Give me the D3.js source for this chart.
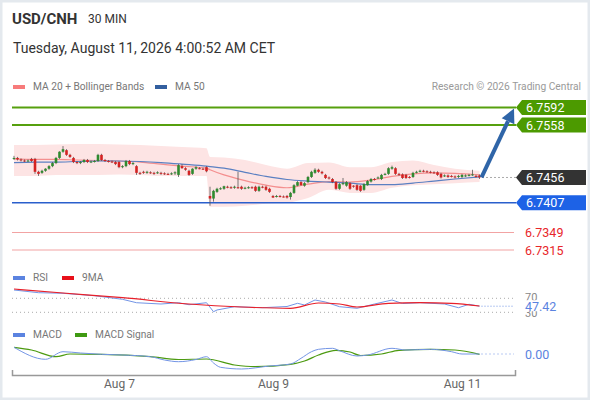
<!DOCTYPE html>
<html>
<head>
<meta charset="utf-8">
<script src="https://cdn.jsdelivr.net/npm/d3@7"></script>
<style>
  body { margin: 0; background: #fff; }
  svg { font-family: Roboto, "Liberation Sans", Arial, sans-serif; display: block; }
</style>
</head>
<body>
<svg id="chart" width="590" height="400"></svg>
<script>
// ---- data (USD/CNH, 30 min candles) ----
const opens = [
  6.7492, 6.7494, 6.7491, 6.7489, 6.7488, 6.7492, 6.7492, 6.7467, 6.7465, 6.7469,
  6.7473, 6.7478, 6.7484, 6.7494, 6.7506, 6.7509, 6.7500, 6.7494, 6.7486, 6.7484,
  6.7486, 6.7490, 6.7486, 6.7487, 6.7488, 6.7500, 6.7490, 6.7488, 6.7487, 6.7486,
  6.7486, 6.7476, 6.7478, 6.7488, 6.7482, 6.7478, 6.7465, 6.7467, 6.7466, 6.7466,
  6.7465, 6.7465, 6.7465, 6.7464, 6.7463, 6.7463, 6.7464, 6.7461, 6.7478, 6.7474,
  6.7469, 6.7463, 6.7473, 6.7474, 6.7473, 6.7476, 6.7420, 6.7415, 6.7428, 6.7434,
  6.7434, 6.7438, 6.7437, 6.7436, 6.7437, 6.7438, 6.7435, 6.7436, 6.7437, 6.7438,
  6.7430, 6.7438, 6.7438, 6.7434, 6.7420, 6.7419, 6.7420, 6.7419, 6.7420, 6.7418,
  6.7426, 6.7440, 6.7447, 6.7440, 6.7447, 6.7457, 6.7465, 6.7471, 6.7467, 6.7461,
  6.7456, 6.7453, 6.7447, 6.7434, 6.7443, 6.7440, 6.7445, 6.7440, 6.7441, 6.7440,
  6.7432, 6.7441, 6.7448, 6.7453, 6.7455, 6.7453, 6.7462, 6.7463, 6.7473, 6.7474,
  6.7463, 6.7462, 6.7461, 6.7457, 6.7457, 6.7466, 6.7468, 6.7469, 6.7468, 6.7467,
  6.7466, 6.7466, 6.7463, 6.7459, 6.7460, 6.7459, 6.7458, 6.7457, 6.7457, 6.7459,
  6.7460, 6.7461, 6.7459, 6.7460
];
const highs = [
  6.7498, 6.7496, 6.7493, 6.7491, 6.7491, 6.7494, 6.7494, 6.7469, 6.7471, 6.7474,
  6.7480, 6.7486, 6.7496, 6.7507, 6.7517, 6.7511, 6.7502, 6.7496, 6.7488, 6.7488,
  6.7492, 6.7492, 6.7489, 6.7490, 6.7502, 6.7502, 6.7492, 6.7490, 6.7489, 6.7488,
  6.7488, 6.7480, 6.7490, 6.7490, 6.7486, 6.7480, 6.7467, 6.7469, 6.7469, 6.7468,
  6.7467, 6.7468, 6.7467, 6.7466, 6.7465, 6.7466, 6.7468, 6.7482, 6.7482, 6.7476,
  6.7471, 6.7474, 6.7478, 6.7476, 6.7475, 6.7478, 6.7438, 6.7432, 6.7436, 6.7437,
  6.7440, 6.7440, 6.7439, 6.7440, 6.7467, 6.7440, 6.7438, 6.7439, 6.7439, 6.7440,
  6.7440, 6.7440, 6.7440, 6.7436, 6.7422, 6.7422, 6.7422, 6.7421, 6.7422, 6.7428,
  6.7443, 6.7449, 6.7449, 6.7447, 6.7459, 6.7469, 6.7474, 6.7473, 6.7469, 6.7463,
  6.7458, 6.7455, 6.7449, 6.7445, 6.7455, 6.7449, 6.7447, 6.7441, 6.7443, 6.7441,
  6.7445, 6.7451, 6.7455, 6.7455, 6.7458, 6.7463, 6.7465, 6.7476, 6.7479, 6.7476,
  6.7465, 6.7464, 6.7463, 6.7459, 6.7467, 6.7469, 6.7471, 6.7471, 6.7470, 6.7469,
  6.7468, 6.7468, 6.7465, 6.7462, 6.7462, 6.7461, 6.7460, 6.7461, 6.7463, 6.7462,
  6.7463, 6.7471, 6.7461, 6.7462
];
const lows = [
  6.7490, 6.7489, 6.7487, 6.7486, 6.7486, 6.7486, 6.7463, 6.7459, 6.7463, 6.7467,
  6.7471, 6.7476, 6.7482, 6.7492, 6.7504, 6.7498, 6.7494, 6.7484, 6.7482, 6.7482,
  6.7484, 6.7484, 6.7484, 6.7485, 6.7486, 6.7488, 6.7486, 6.7485, 6.7484, 6.7480,
  6.7474, 6.7474, 6.7476, 6.7480, 6.7480, 6.7461, 6.7461, 6.7463, 6.7463, 6.7463,
  6.7461, 6.7463, 6.7461, 6.7461, 6.7461, 6.7461, 6.7461, 6.7457, 6.7473, 6.7469,
  6.7459, 6.7461, 6.7471, 6.7472, 6.7471, 6.7466, 6.7401, 6.7409, 6.7426, 6.7432,
  6.7432, 6.7435, 6.7434, 6.7434, 6.7434, 6.7432, 6.7433, 6.7434, 6.7434, 6.7428,
  6.7428, 6.7435, 6.7430, 6.7426, 6.7416, 6.7417, 6.7417, 6.7417, 6.7415, 6.7413,
  6.7424, 6.7439, 6.7440, 6.7438, 6.7445, 6.7455, 6.7463, 6.7465, 6.7462, 6.7453,
  6.7452, 6.7445, 6.7432, 6.7432, 6.7441, 6.7438, 6.7432, 6.7436, 6.7430, 6.7428,
  6.7430, 6.7440, 6.7446, 6.7450, 6.7453, 6.7451, 6.7460, 6.7461, 6.7471, 6.7461,
  6.7459, 6.7453, 6.7453, 6.7454, 6.7455, 6.7464, 6.7466, 6.7466, 6.7465, 6.7464,
  6.7463, 6.7459, 6.7454, 6.7457, 6.7455, 6.7456, 6.7454, 6.7455, 6.7455, 6.7457,
  6.7458, 6.7459, 6.7456, 6.7453
];
const closes = [
  6.7494, 6.7491, 6.7489, 6.7488, 6.7489, 6.7488, 6.7467, 6.7463, 6.7469, 6.7473,
  6.7478, 6.7484, 6.7494, 6.7506, 6.7511, 6.7500, 6.7496, 6.7486, 6.7484, 6.7486,
  6.7490, 6.7486, 6.7487, 6.7488, 6.7500, 6.7490, 6.7488, 6.7487, 6.7486, 6.7482,
  6.7476, 6.7478, 6.7488, 6.7482, 6.7484, 6.7465, 6.7464, 6.7466, 6.7467, 6.7465,
  6.7464, 6.7466, 6.7464, 6.7463, 6.7462, 6.7464, 6.7466, 6.7480, 6.7474, 6.7471,
  6.7461, 6.7473, 6.7476, 6.7473, 6.7472, 6.7468, 6.7415, 6.7430, 6.7434, 6.7435,
  6.7439, 6.7437, 6.7436, 6.7438, 6.7436, 6.7434, 6.7436, 6.7437, 6.7436, 6.7430,
  6.7438, 6.7437, 6.7432, 6.7428, 6.7417, 6.7420, 6.7419, 6.7418, 6.7417, 6.7426,
  6.7441, 6.7447, 6.7441, 6.7445, 6.7457, 6.7467, 6.7471, 6.7467, 6.7464, 6.7455,
  6.7454, 6.7447, 6.7434, 6.7443, 6.7445, 6.7447, 6.7434, 6.7438, 6.7432, 6.7430,
  6.7443, 6.7449, 6.7453, 6.7452, 6.7456, 6.7461, 6.7463, 6.7474, 6.7476, 6.7463,
  6.7461, 6.7455, 6.7455, 6.7456, 6.7465, 6.7467, 6.7469, 6.7468, 6.7467, 6.7466,
  6.7465, 6.7461, 6.7456, 6.7460, 6.7457, 6.7458, 6.7456, 6.7459, 6.7461, 6.7460,
  6.7461, 6.7462, 6.7458, 6.7456
];

// moving averages and bands, sampled at these candle indices
const lineIdx = [0, 6, 12, 18, 24, 30, 36, 42, 48, 55, 56, 60, 66, 72, 78, 84, 90, 96, 102, 108, 114, 120, 126, 133];
const bbUpper = [6.7519, 6.7519, 6.7520, 6.7521, 6.7521, 6.7520, 6.7519, 6.7517, 6.7515, 6.7513, 6.7496, 6.7495,
                 6.7490, 6.7480, 6.7473, 6.7484, 6.7485, 6.7476, 6.7476, 6.7486, 6.7489, 6.7480, 6.7473, 6.7469];
const bbLower = [6.7459, 6.7459, 6.7461, 6.7461, 6.7461, 6.7462, 6.7461, 6.7459, 6.7459, 6.7459, 6.7399, 6.7399,
                 6.7401, 6.7405, 6.7407, 6.7416, 6.7432, 6.7426, 6.7426, 6.7436, 6.7441, 6.7443, 6.7445, 6.7447];
const ma20 = [6.7492, 6.7491, 6.7491, 6.7490, 6.7489, 6.7488, 6.7486, 6.7482, 6.7478, 6.7474, 6.7471, 6.7461,
              6.7450, 6.7441, 6.7436, 6.7443, 6.7448, 6.7447, 6.7451, 6.7458, 6.7463, 6.7465, 6.7464, 6.7461];
const ma50 = [6.7485, 6.7486, 6.7486, 6.7487, 6.7488, 6.7488, 6.7487, 6.7485, 6.7482, 6.7478, 6.7477, 6.7474,
              6.7466, 6.7458, 6.7452, 6.7449, 6.7447, 6.7445, 6.7442, 6.7442, 6.7445, 6.7449, 6.7453, 6.7457];

// RSI panel
const rsiIdx = [0, 7, 14, 23, 31, 35, 42, 47, 50, 55, 57, 58, 63, 71, 78, 81, 83, 86, 89, 93, 98, 103, 108, 111, 116, 123, 127, 130, 133];
const rsiVals = [93.7, 86, 84.3, 77.4, 67.1, 57.4, 53.7, 57.4, 51.7, 57.4, 31.7, 36.6, 46, 43.1, 46.6, 55.7, 50.9,
                 65.1, 59.4, 46, 41.4, 53.7, 65.1, 55.1, 57.4, 53.7, 43.1, 52.9, 47.42];
const rsiMaIdx = [0, 14, 31, 50, 65, 79, 87, 93, 98, 107, 116, 125, 133];
const rsiMaVals = [96.6, 85.1, 71.7, 53.7, 45.1, 41.4, 56.6, 53.7, 45.1, 55.7, 57.4, 55.7, 48];
const rsiLevels = [70, 30];

// MACD panel
const macdIdx = [0, 9, 14, 19, 25, 31, 39, 43, 47, 52, 55, 57, 59, 65, 73, 79, 82, 85, 87, 91, 93, 98, 101, 108, 112, 119, 125, 128, 133];
const macdVals = [0.00067, -0.00053, 0.00023, 0.0001, -0.00003, -0.0001, -0.00027, -0.0006, -0.00077, -0.00055,
                  -0.00027, -0.0009, -0.00133, -0.0015, -0.0012, -0.001, -0.00043, 0.00023, 0.00047, 0.00057,
                  0.00033, -0.0002, -0.0001, 0.00057, 0.0004, 0.00047, 0.00023, 0, 0];
const signalIdx = [0, 5, 12, 16, 25, 39, 47, 55, 63, 69, 79, 83, 87, 92, 96, 99, 105, 110, 119, 126, 133];
const signalVals = [0.00067, 0.0004, -0.00027, 0, -0.00003, -0.00027, -0.00055, -0.0005, -0.0011, -0.00127,
                    -0.00103, -0.0007, -0.0001, 0.00037, 0.0002, -0.00015, 0, 0.00037, 0.00047, 0.0004, -0.00003];

// key levels
const resistances = [6.7592, 6.7558];
const supports = [6.7407];
const minorLevels = [6.7349, 6.7315];
const lastPrice = 6.7456;

// x axis
const tickIdx = [30, 74, 128];
const tickLabels = ['Aug 7', 'Aug 9', 'Aug 11'];

// ---- drawing ----
const svg = d3.select('#chart');
const W = 590, H = 400;

svg.append('rect').attr('x', 1).attr('y', 1).attr('width', W - 2).attr('height', H - 2)
  .attr('fill', '#fff').attr('stroke', '#e4e9ee').attr('stroke-width', 3);

const x = d3.scaleLinear().domain([0, closes.length - 1]).range([14, 479.5]);
const y = d3.scaleLinear().domain([6.7315, 6.7558]).range([250, 125]);
const yRsi = d3.scaleLinear().domain([0, 100]).range([322.8, 287.8]);
const yMacd = d3.scaleLinear().domain([-0.0015, 0.0007]).range([369, 347]);

const lineRight = 516;
const labelX = 525;

// header
svg.append('text').attr('x', 12).attr('y', 24).text('USD/CNH')
  .style('font-size', '15px').style('font-weight', 'bold').attr('fill', '#333');
svg.append('text').attr('x', 88).attr('y', 23).text('30 MIN')
  .style('font-size', '12px').attr('fill', '#333');
svg.append('text').attr('x', 13).attr('y', 53).text('Tuesday, August 11, 2026 4:00:52 AM CET')
  .style('font-size', '14px').attr('fill', '#333');

// legend helper
function legend(items, yy) {
  items.forEach(it => {
    svg.append('rect').attr('x', it.x).attr('y', yy - 5).attr('width', 12).attr('height', 4).attr('fill', it.color);
    svg.append('text').attr('x', it.x + 20).attr('y', yy).text(it.label)
      .style('font-size', '10.2px').attr('fill', '#777');
  });
}
legend([{x: 13, color: '#f77b7b', label: 'MA 20 + Bollinger Bands'}, {x: 155, color: '#335f9f', label: 'MA 50'}], 90);
svg.append('text').attr('x', 581).attr('y', 90).attr('text-anchor', 'end')
  .text('Research \u00a9 2026 Trading Central').style('font-size', '10.2px').attr('fill', '#999');

// bollinger band + moving averages
const bandData = lineIdx.map((d, i) => ({i: d, hi: bbUpper[i], lo: bbLower[i], m20: ma20[i], m50: ma50[i]}));
svg.append('path').datum(bandData)
  .attr('d', d3.area().x(d => x(d.i)).y0(d => y(d.lo)).y1(d => y(d.hi)).curve(d3.curveMonotoneX))
  .attr('fill', '#fde4e4');
svg.append('path').datum(bandData)
  .attr('d', d3.line().x(d => x(d.i)).y(d => y(d.m20)).curve(d3.curveMonotoneX))
  .attr('fill', 'none').attr('stroke', '#f48f8f').attr('stroke-width', 1.2);
svg.append('path').datum(bandData)
  .attr('d', d3.line().x(d => x(d.i)).y(d => y(d.m50)).curve(d3.curveMonotoneX))
  .attr('fill', 'none').attr('stroke', '#5b80c2').attr('stroke-width', 1.2);

// level lines
resistances.forEach(v => {
  svg.append('line').attr('x1', 12).attr('x2', lineRight).attr('y1', y(v)).attr('y2', y(v))
    .attr('stroke', '#56a00e').attr('stroke-width', 2);
});
supports.forEach(v => {
  svg.append('line').attr('x1', 12).attr('x2', lineRight).attr('y1', y(v)).attr('y2', y(v))
    .attr('stroke', '#2a5fcc').attr('stroke-width', 1.5);
});
minorLevels.forEach(v => {
  svg.append('line').attr('x1', 12).attr('x2', 514).attr('y1', y(v)).attr('y2', y(v))
    .attr('stroke', '#f2a3a3').attr('stroke-width', 1);
  svg.append('text').attr('x', labelX).attr('y', y(v) + 4.5).text(v.toFixed(4))
    .style('font-size', '12.5px').attr('fill', '#e8262a');
});

// candles
const candles = closes.map((c, i) => ({i, o: opens[i], h: highs[i], l: lows[i], c}));
const gC = svg.append('g');
gC.selectAll('line.wick').data(candles).enter().append('line')
  .attr('x1', d => x(d.i)).attr('x2', d => x(d.i))
  .attr('y1', d => y(d.h)).attr('y2', d => y(d.l))
  .attr('stroke', '#555').attr('stroke-width', 0.8);
gC.selectAll('rect.body').data(candles).enter().append('rect')
  .attr('x', d => x(d.i) - 1.3).attr('width', 2.6)
  .attr('y', d => y(Math.max(d.o, d.c)))
  .attr('height', d => Math.max(1, Math.abs(y(d.o) - y(d.c))))
  .attr('fill', d => d.c > d.o ? '#2f8a2f' : (d.c < d.o ? '#d42222' : '#444'));

// last price dotted line
const lastX = x(closes.length - 1);
svg.append('line').attr('x1', lastX + 3).attr('x2', lineRight).attr('y1', y(lastPrice)).attr('y2', y(lastPrice))
  .attr('stroke', '#555').attr('stroke-width', 1).attr('stroke-dasharray', '1,3');

// price tags
function tag(v, fill) {
  const cy = y(v), h = 15;
  svg.append('path')
    .attr('d', `M${lineRight},${cy} L${lineRight + 6},${cy - h / 2} H586 V${cy + h / 2} H${lineRight + 6} Z`)
    .attr('fill', fill);
  svg.append('text').attr('x', labelX + 1).attr('y', cy + 4.5).text(v.toFixed(4))
    .style('font-size', '12.5px').attr('fill', '#fff');
}
resistances.forEach(v => tag(v, '#4c9a00'));
tag(lastPrice, '#333');
supports.forEach(v => tag(v, '#1d62e6'));

// forecast arrow
const ax0 = lastX + 2, ay0 = y(lastPrice), ax1 = 514, ay1 = y(resistances[0]) + 1;
const ang = Math.atan2(ay1 - ay0, ax1 - ax0);
const headL = 14, headW = 7;
const bx = ax1 - headL * Math.cos(ang), by = ay1 - headL * Math.sin(ang);
svg.append('line').attr('x1', ax0).attr('y1', ay0).attr('x2', bx).attr('y2', by)
  .attr('stroke', '#2f65a8').attr('stroke-width', 4);
svg.append('path')
  .attr('d', `M${ax1},${ay1} L${bx + headW * Math.sin(ang)},${by - headW * Math.cos(ang)} L${bx - headW * Math.sin(ang)},${by + headW * Math.cos(ang)} Z`)
  .attr('fill', '#2f65a8');

// RSI panel
legend([{x: 13, color: '#5b83e0', label: 'RSI'}, {x: 62, color: '#e8101a', label: '9MA'}], 281);
rsiLevels.forEach(v => {
  svg.append('line').attr('x1', 12).attr('x2', 514).attr('y1', yRsi(v)).attr('y2', yRsi(v))
    .attr('stroke', '#aaa').attr('stroke-width', 1).attr('stroke-dasharray', '1,3');
  svg.append('text').attr('x', labelX).attr('y', yRsi(v) + (v === 30 ? 5 : 3)).text(v)
    .style('font-size', '11px').attr('fill', '#888');
});
const rsiData = rsiIdx.map((d, i) => [d, rsiVals[i]]);
const rsiMaData = rsiMaIdx.map((d, i) => [d, rsiMaVals[i]]);
svg.append('path').datum(rsiData)
  .attr('d', d3.line().x(d => x(d[0])).y(d => yRsi(d[1])))
  .attr('fill', 'none').attr('stroke', '#7395e6').attr('stroke-width', 1);
svg.append('path').datum(rsiMaData)
  .attr('d', d3.line().x(d => x(d[0])).y(d => yRsi(d[1])).curve(d3.curveMonotoneX))
  .attr('fill', 'none').attr('stroke', '#e8202a').attr('stroke-width', 1.2);
const rsiLast = rsiVals[rsiVals.length - 1];
svg.append('line').attr('x1', lastX + 2).attr('x2', 514).attr('y1', yRsi(rsiLast)).attr('y2', yRsi(rsiLast))
  .attr('stroke', '#7395e6').attr('stroke-width', 1).attr('stroke-dasharray', '1,2');
svg.append('rect').attr('x', labelX - 1).attr('y', yRsi(rsiLast) - 6).attr('width', 34).attr('height', 11).attr('fill', '#fff');
svg.append('text').attr('x', labelX).attr('y', yRsi(rsiLast) + 4.5).text(rsiLast.toFixed(2))
  .style('font-size', '12.5px').attr('fill', '#5b83e0');

// MACD panel
legend([{x: 13, color: '#5b83e0', label: 'MACD'}, {x: 75, color: '#3f9a12', label: 'MACD Signal'}], 338);
const macdData = macdIdx.map((d, i) => [d, macdVals[i]]);
const signalData = signalIdx.map((d, i) => [d, signalVals[i]]);
svg.append('path').datum(signalData)
  .attr('d', d3.line().x(d => x(d[0])).y(d => yMacd(d[1])).curve(d3.curveMonotoneX))
  .attr('fill', 'none').attr('stroke', '#4c9a10').attr('stroke-width', 1.2);
svg.append('path').datum(macdData)
  .attr('d', d3.line().x(d => x(d[0])).y(d => yMacd(d[1])).curve(d3.curveMonotoneX))
  .attr('fill', 'none').attr('stroke', '#7395e6').attr('stroke-width', 1);
const macdLast = macdVals[macdVals.length - 1];
svg.append('line').attr('x1', lastX + 2).attr('x2', 514).attr('y1', yMacd(macdLast)).attr('y2', yMacd(macdLast))
  .attr('stroke', '#7395e6').attr('stroke-width', 1).attr('stroke-dasharray', '1,3');
svg.append('text').attr('x', labelX).attr('y', yMacd(macdLast) + 4.5).text(macdLast.toFixed(2))
  .style('font-size', '12.5px').attr('fill', '#5b83e0');

// x axis
const xAxisScale = d3.scaleLinear().domain([x.invert(12), x.invert(515)]).range([12, 515]);
const xAxis = svg.append('g').attr('transform', 'translate(0,375)')
  .call(d3.axisBottom(xAxisScale).tickValues(tickIdx).tickFormat((d, i) => tickLabels[i])
    .tickSizeInner(0).tickSizeOuter(-5).tickPadding(4));
xAxis.select('.domain').attr('stroke', '#999').attr('stroke-width', 1.5);
xAxis.selectAll('text').style('font-size', '12px').attr('fill', '#666')
  .style('font-family', 'Roboto, "Liberation Sans", Arial, sans-serif');
</script>
</body>
</html>
